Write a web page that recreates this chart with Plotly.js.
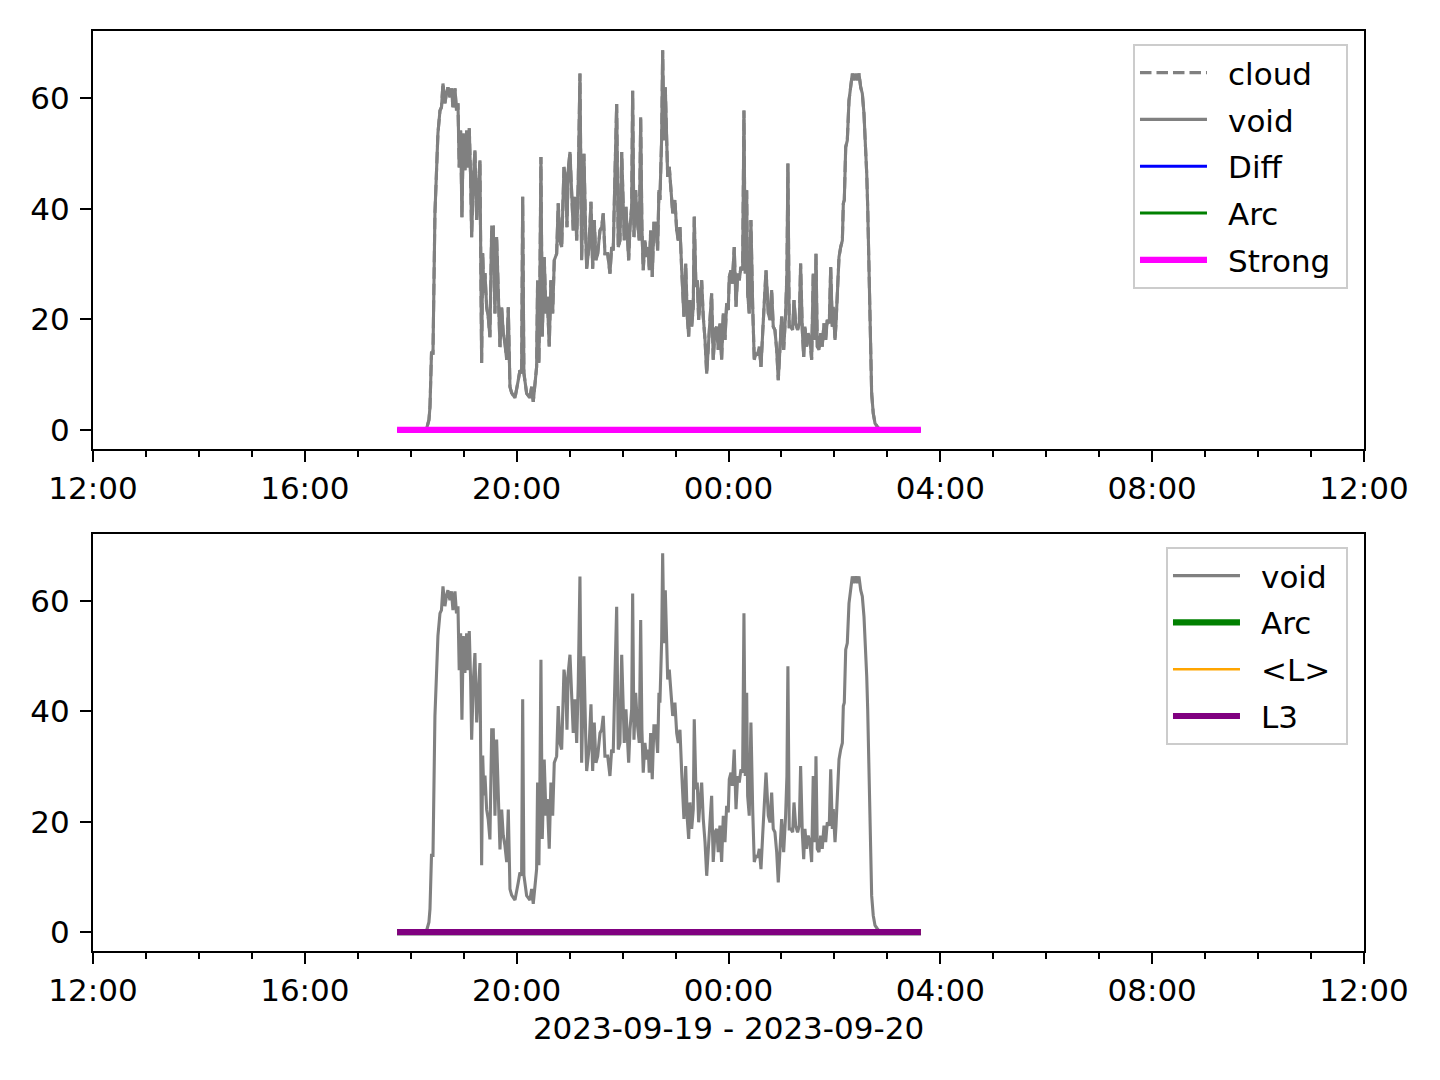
<!DOCTYPE html>
<html>
<head>
<meta charset="utf-8">
<script src="https://cdn.plot.ly/plotly-3.0.1.min.js"></script>
<style>
html, body { margin: 0; padding: 0; background: #ffffff; }
#chart { width: 1440px; height: 1080px; }
</style>
</head>
<body>
<div id="chart"></div>
<script>
// Time base for the minute offsets below
const baseTime = '2023-09-19 18:00';
// Minutes after 18:00 for each "void" sample
const voidMinutes = [
  -15.5, 16.1, 18.4, 20.6, 21.8, 23.5, 25.2, 26.3, 27.4, 29.1, 30.8, 33.1, 34.8, 36.5, 38.7, 40.4, 42.1, 44.4, 46.1, 47.8,
  50.1, 51.8, 53.5, 54.9, 56.5, 58.0, 59.5, 61.4, 63.3, 65.1, 66.3, 67.9, 69.0, 70.8, 72.7, 74.7, 76.5, 78.4, 80.3, 81.5,
  82.9, 84.1, 86.0, 87.8, 89.7, 91.7, 93.5, 95.4, 97.3, 99.1, 101.1, 103.0, 104.8, 106.7, 108.7, 110.5, 112.4, 114.3, 118.1, 121.8,
  123.7, 125.6, 126.8, 128.2, 131.3, 135.0, 137.0, 138.8, 140.7, 142.6, 143.7, 145.2, 146.4, 147.5, 149.0, 151.2, 153.2, 154.7, 156.9, 158.8,
  160.8, 162.6, 165.3, 167.1, 169.0, 171.0, 173.6, 175.5, 177.0, 178.4, 180.4, 182.3, 184.1, 186.0, 188.0, 189.8, 191.7, 193.6, 196.2, 198.2,
  199.3, 201.9, 204.2, 206.1, 207.9, 209.8, 211.8, 214.4, 216.3, 218.1, 220.0, 223.1, 225.7, 227.6, 229.4, 231.4, 233.3, 235.1, 237.0, 239.0,
  240.8, 241.9, 243.8, 245.3, 246.9, 248.4, 250.3, 251.4, 252.9, 254.8, 256.6, 258.9, 260.5, 261.9, 263.4, 265.3, 267.3, 269.1, 270.2, 271.8,
  273.6, 275.5, 277.5, 279.7, 281.2, 282.3, 284.3, 285.4, 286.9, 288.4, 290.0, 291.1, 292.9, 294.5, 296.8, 299.3, 301.3, 303.1, 305.0, 307.0,
  308.1, 309.5, 311.5, 313.3, 314.9, 316.3, 318.3, 320.1, 321.2, 323.1, 324.6, 326.2, 327.7, 329.6, 331.4, 333.4, 335.3, 337.1, 339.0, 340.9,
  342.7, 344.7, 346.6, 348.4, 350.3, 352.2, 354.1, 356.0, 357.9, 359.7, 360.9, 362.8, 364.3, 366.5, 368.5, 370.4, 372.2, 374.1, 376.0, 377.5,
  379.0, 380.6, 381.7, 383.5, 385.4, 387.4, 389.2, 391.1, 393.0, 394.9, 396.8, 398.7, 400.5, 402.5, 405.1, 407.0, 408.9, 410.7, 412.6, 414.6,
  416.4, 418.3, 420.2, 422.5, 424.7, 426.2, 427.3, 428.8, 430.8, 432.7, 434.2, 436.1, 438.3, 440.2, 441.7, 443.6, 445.2, 446.6, 448.5, 450.3,
  452.3, 454.2, 456.0, 458.0, 459.1, 460.6, 462.5, 464.4, 466.2, 468.2, 470.1, 471.9, 474.2, 475.8, 477.6, 478.7, 480.7, 481.8, 483.3, 485.2,
  487.1, 489.0, 490.1, 491.2, 492.8, 494.6, 496.5, 498.5, 500.3, 502.2, 504.1, 506.0, 507.8, 509.8, 511.6, 513.5, 515.4, 516.6, 517.7, 518.8,
  519.9, 521.1, 522.2, 524.0, 526.0, 528.6, 531.6, 578.0
];
// "void" values
const voidValues = [
  0, 0, 0.5, 1.8, 4.2, 13.9, 13.9, 28.4, 39.2, 46.4, 53.7, 57.8, 58.4, 62.7, 59.1, 60.9, 62.0, 60.2, 61.8, 58.4,
  61.8, 57.8, 59.1, 47.5, 54.2, 38.5, 53.7, 47.0, 54.2, 47.5, 54.6, 45.2, 34.9, 45.2, 50.6, 38.0, 42.8, 48.8, 12.1, 32.0,
  24.8, 28.4, 22.2, 20.4, 16.8, 36.7, 36.7, 21.1, 34.9, 23.5, 15.0, 22.2, 17.5, 15.7, 12.7, 22.2, 7.8, 6.7, 5.8, 9.0,
  10.8, 10.2, 42.2, 10.3, 6.6, 5.8, 7.8, 5.1, 9.0, 11.4, 27.1, 12.1, 28.3, 49.4, 16.9, 31.3, 21.1, 24.1, 15.1, 27.1,
  21.1, 30.7, 31.9, 41.0, 34.3, 33.1, 47.6, 45.2, 36.7, 47.0, 50.3, 43.4, 36.1, 42.2, 34.3, 45.2, 64.5, 30.7, 50.0, 35.5,
  29.2, 33.1, 41.3, 29.2, 38.0, 30.7, 31.9, 36.1, 36.7, 39.2, 31.9, 31.9, 28.3, 33.1, 32.5, 46.4, 59.0, 33.1, 34.3, 50.3,
  40.4, 34.3, 40.4, 34.3, 30.7, 36.7, 40.4, 61.4, 34.9, 43.4, 38.0, 34.3, 56.6, 36.7, 28.9, 34.3, 31.3, 33.1, 28.9, 36.1,
  27.7, 37.4, 37.4, 32.5, 43.4, 41.6, 53.0, 68.7, 52.4, 62.0, 52.4, 45.8, 47.6, 44.0, 39.2, 41.6, 36.1, 34.3, 36.7, 28.9,
  24.1, 20.5, 30.1, 20.5, 16.9, 23.5, 18.7, 22.3, 38.6, 25.9, 27.1, 19.9, 23.5, 27.1, 20.5, 16.3, 10.2, 16.3, 19.9, 24.7,
  12.7, 18.1, 18.7, 14.5, 19.3, 12.7, 21.1, 16.3, 22.9, 21.7, 27.7, 28.9, 26.5, 33.1, 22.3, 28.3, 27.1, 29.5, 28.9, 57.8,
  28.3, 43.4, 24.7, 21.1, 38.0, 22.3, 12.7, 13.9, 13.5, 15.1, 11.4, 17.5, 23.5, 28.9, 21.1, 19.9, 25.3, 18.7, 18.1, 14.5,
  9.0, 15.7, 20.5, 14.5, 21.1, 28.3, 48.2, 18.7, 18.7, 18.1, 23.5, 19.3, 18.1, 19.3, 30.1, 18.1, 13.2, 18.7, 15.1, 17.5,
  16.3, 12.7, 28.3, 16.3, 31.9, 15.1, 14.5, 17.5, 15.1, 19.3, 16.3, 19.9, 19.3, 29.5, 18.7, 22.3, 16.3, 19.3, 23.5, 31.3,
  33.1, 34.3, 41.0, 41.6, 51.2, 52.4, 59.6, 62.7, 64.5, 63.3, 64.5, 63.3, 64.5, 62.0, 60.9, 57.2, 51.2, 46.4, 40.4, 31.3,
  22.3, 13.2, 6.6, 3.0, 1.2, 0.6, 0, 0
];
// Flat series (Diff, Arc, Strong, <L>, L3): minutes after 18:00 and values
const flatMinutes = [-15.5, 578.0];
const flatValues = [0, 0];

const xRange = ['2023-09-19 12:00', '2023-09-20 12:00'];
const yTicks = [0, 20, 40, 60];
const xAxisLabel = '2023-09-19 - 2023-09-20';

function toDates(mins) {
  const b = baseTime.split(/[- :]/).map(Number);
  const base = Date.UTC(b[0], b[1] - 1, b[2], b[3], b[4]);
  return mins.map(m => {
    const d = new Date(base + Math.round(m * 60000));
    return d.toISOString().slice(0, 19).replace('T', ' ');
  });
}
const vx = toDates(voidMinutes);
const fx = toDates(flatMinutes);

const FONT = 'DejaVu Sans';
const FS = 31;
const LEAD = '\u00a0\u2009';
const TRAIL = '\u00a0';

let gid = 0;
function trace(x, y, name, color, width, xa, ya, leg, dash) {
  gid += 1;
  return {
    x: x, y: y, name: LEAD + name + TRAIL, type: 'scatter', mode: 'lines',
    line: {color: color, width: width, dash: dash || 'solid'},
    xaxis: xa, yaxis: ya, legend: leg, legendgroup: 'g' + gid, hoverinfo: 'skip'
  };
}

const data = [
  trace(vx, voidValues, 'cloud', 'gray', 3.1, 'x', 'y', 'legend', '11.5px,5px'),
  trace(vx, voidValues, 'void', 'gray', 3.1, 'x', 'y', 'legend'),
  trace(fx, flatValues, 'Diff', 'blue', 3.1, 'x', 'y', 'legend'),
  trace(fx, flatValues, 'Arc', 'green', 3.1, 'x', 'y', 'legend'),
  trace(fx, flatValues, 'Strong', 'magenta', 6.2, 'x', 'y', 'legend'),
  trace(vx, voidValues, 'void', 'gray', 3.1, 'x2', 'y2', 'legend2'),
  trace(fx, flatValues, 'Arc', 'green', 6.2, 'x2', 'y2', 'legend2'),
  trace(fx, flatValues, '&lt;L&gt;', 'orange', 2.5, 'x2', 'y2', 'legend2'),
  trace(fx, flatValues, 'L3', 'purple', 6.2, 'x2', 'y2', 'legend2')
];

function xaxis(anchor, withTitle) {
  const a = {
    type: 'date', range: xRange, anchor: anchor, domain: [0, 1],
    tickformat: '%H:%M', tick0: xRange[0], dtick: 4 * 3600000,
    ticks: 'outside', ticklen: 11, tickwidth: 2, tickcolor: 'black',
    showline: true, mirror: true, linecolor: 'black', linewidth: 2,
    showgrid: false, zeroline: false,
    tickfont: {family: FONT, size: FS, color: 'black'},
    minor: {tick0: xRange[0], dtick: 3600000, ticks: 'outside', ticklen: 6, tickwidth: 2, tickcolor: 'black', showgrid: false}
  };
  if (withTitle) {
    a.title = {text: xAxisLabel, font: {family: FONT, size: FS, color: 'black'}, standoff: 10};
  }
  return a;
}
function yaxis(anchor, domain) {
  return {
    range: [-3.44, 72.2], anchor: anchor, domain: domain,
    tickmode: 'array', tickvals: yTicks, ticktext: yTicks.map(String),
    ticks: 'outside', ticklen: 11, tickwidth: 2, tickcolor: 'black',
    ticklabelstandoff: 4,
    showline: true, mirror: true, linecolor: 'black', linewidth: 2,
    showgrid: false, zeroline: false,
    tickfont: {family: FONT, size: FS, color: 'black'}
  };
}
function legend(y) {
  return {
    x: 0.9874, xanchor: 'right', y: y, yanchor: 'top',
    bgcolor: 'rgba(255,255,255,0.8)', bordercolor: '#cccccc', borderwidth: 2,
    font: {family: FONT, size: FS, color: 'black'},
    itemwidth: 67, traceorder: 'grouped', tracegroupgap: 3.5
  };
}

const layout = {
  width: 1440, height: 1080,
  margin: {l: 93, r: 76, t: 31, b: 129},
  paper_bgcolor: 'white', plot_bgcolor: 'white',
  font: {family: FONT, size: FS, color: 'black'},
  showlegend: true,
  xaxis: xaxis('y', false),
  yaxis: yaxis('x', [0.5457, 1]),
  xaxis2: xaxis('y2', true),
  yaxis2: yaxis('x2', [0, 0.4533]),
  legend: legend(0.9859),
  legend2: legend(0.4392)
};

Plotly.newPlot('chart', data, layout, {displayModeBar: false, staticPlot: true});
</script>
</body>
</html>
